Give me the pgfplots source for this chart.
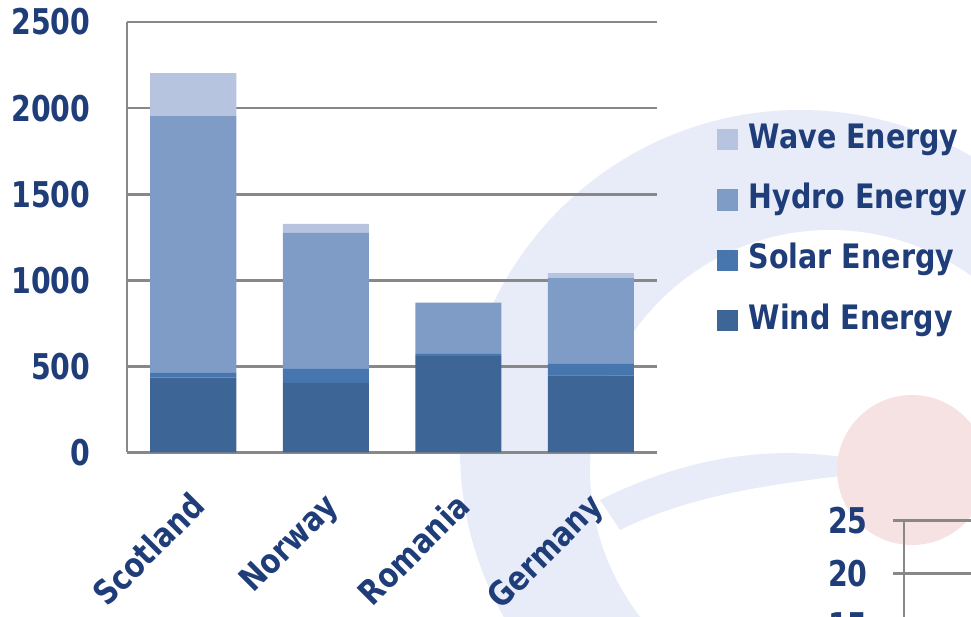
\documentclass[border=0pt]{standalone}
\usepackage{pgfplots}
\pgfplotsset{compat=1.18}
\usepackage{fontspec}
\setmainfont{DejaVu Sans}
\usepackage{graphicx}
\definecolor{windc}{HTML}{3D6596}
\definecolor{solarc}{HTML}{4776AE}
\definecolor{hydroc}{HTML}{7F9CC7}
\definecolor{wavec}{HTML}{B6C4DF}
\definecolor{txt}{HTML}{1F3D78}
\definecolor{gridc}{HTML}{888888}
\definecolor{wm}{HTML}{E8ECF8}
\definecolor{pinkc}{HTML}{F6E2E2}
\newcommand\tickfont{\fontsize{21.3pt}{21.3pt}\selectfont\bfseries}
\newcommand\labfont{\fontsize{21.4pt}{21.4pt}\selectfont\bfseries}
\newcommand\st[1]{\scalebox{1}[1.18]{#1}}
\begin{document}
\begin{tikzpicture}
\useasboundingbox (0,0) rectangle (728.25pt,462.75pt);
\clip (0,0) rectangle (728.25pt,462.75pt);
% faint background watermark
\begin{scope}[yshift=462.75pt, x=0.75pt, y=-0.75pt]
  \fill[wm, even odd rule] (800,450) circle (340) (830,470) circle (240);
  \fill[wm] (600,500) .. controls (700,450) and (800,440) .. (900,470) .. controls (800,480) and (700,490) .. (620,530) -- cycle;
  \fill[pinkc] (912,470) circle (75);
\end{scope}
\begin{axis}[
  at={(95.25pt,123.375pt)}, anchor=south west,
  scale only axis, width=397.5pt, height=322.875pt,
  ybar stacked, bar width=64.5pt,
  enlargelimits=false,
  xmin=-0.5, xmax=3.5, ymin=0, ymax=2500,
  xtick={0,1,2,3}, xticklabels={\st{Scotland},\st{Norway},\st{Romania},\st{Germany}},
  ytick={0,500,...,2500},
  axis lines*=left,
  axis line style={gridc, line width=2.1pt},
  ymajorgrids, grid style={gridc, line width=2.1pt},
  major tick length=0pt, tick style={draw=none},
  /pgf/number format/1000 sep={}, /pgf/number format/assume math mode=true,
  yticklabel={\scalebox{1}[1.25]{\pgfmathprintnumber{\tick}}},
  yticklabel style={font=\tickfont, text=txt, anchor=east, inner sep=0pt, xshift=-27.2pt},
  xticklabel style={font=\labfont, text=txt, inner sep=0pt, text height=0.76em, text depth=0.24em, xshift=8.5pt, yshift=-40pt, rotate=45, anchor=east},
  reverse legend, legend cell align=left,
  legend style={at={(1.1132,0.7514)}, anchor=north west, draw=none, fill=none, inner sep=0pt, outer sep=0pt,
    font=\labfont, text=txt, row sep=29pt, column sep=8pt,
    nodes={inner sep=0pt, text height=6pt, text depth=2pt}},
]
\addplot[fill=windc, draw=none, legend image code/.code={\fill[windc] (0pt,-3.75pt) rectangle (15.75pt,12.25pt);}] coordinates {(0,435) (1,405) (2,560) (3,448)};
\addplot[fill=solarc, draw=none, legend image code/.code={\fill[solarc] (0pt,-3.75pt) rectangle (15.75pt,12.25pt);}] coordinates {(0,28) (1,80) (2,13) (3,67)};
\addplot[fill=hydroc, draw=none, legend image code/.code={\fill[hydroc] (0pt,-3.75pt) rectangle (15.75pt,12.25pt);}] coordinates {(0,1490) (1,790) (2,298) (3,497)};
\addplot[fill=wavec, draw=none, legend image code/.code={\fill[wavec] (0pt,-3.75pt) rectangle (15.75pt,12.25pt);}] coordinates {(0,250) (1,52) (2,0) (3,29)};
\legend{\st{Wind Energy},\st{Solar Energy},\st{Hydro Energy},\st{Wave Energy}}
\end{axis}
% second chart, cut off at the lower right
\begin{axis}[
  at={(678pt,-125.2pt)}, anchor=south west,
  scale only axis, width=372pt, height=197.4pt,
  xmin=0, xmax=1, ymin=0, ymax=25,
  xtick=\empty, ytick={0,5,...,25},
  axis lines*=left, x axis line style={draw=none},
  axis line style={gridc, line width=2.1pt},
  ymajorgrids, grid style={gridc, line width=2.1pt},
  major tick length=8.25pt, tick align=outside, tick style={gridc, line width=2.1pt},
  /pgf/number format/assume math mode=true,
  yticklabel={\scalebox{1}[1.25]{\pgfmathprintnumber{\tick}}},
  yticklabel style={font=\tickfont, text=txt, anchor=east, inner sep=0pt, xshift=-18.75pt},
]
\end{axis}
\end{tikzpicture}
\end{document}
